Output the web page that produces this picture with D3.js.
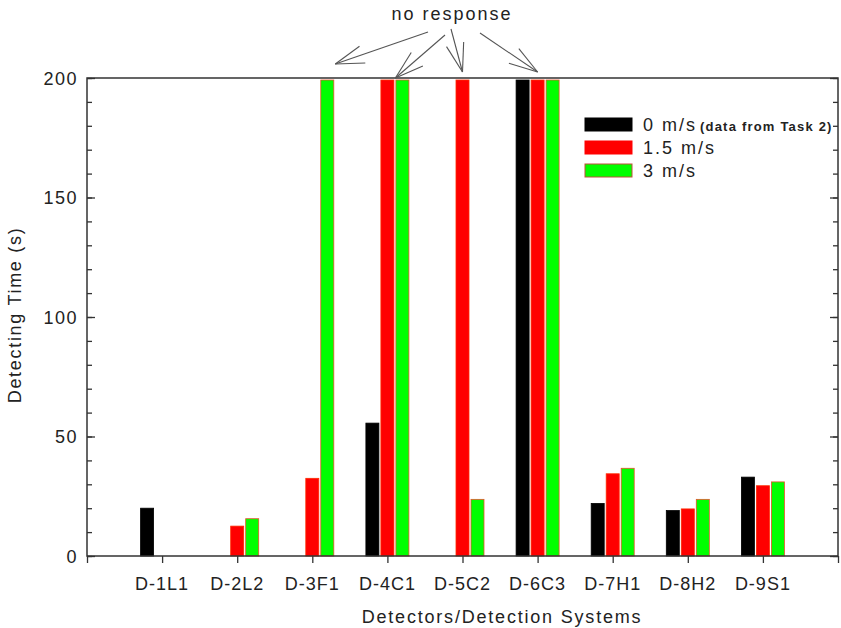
<!DOCTYPE html>
<html>
<head>
<meta charset="utf-8">
<script src="https://cdn.jsdelivr.net/npm/d3@7"></script>
<style>
  body { margin: 0; background: #fff; }
  text { font-family: "Liberation Sans", Arial, sans-serif; fill: #222; }
</style>
</head>
<body>
<div id="chart"></div>
<script>
// categories and series (null = no bar drawn)
const detectors = ["D-1L1", "D-2L2", "D-3F1", "D-4C1", "D-5C2", "D-6C3", "D-7H1", "D-8H2", "D-9S1"];
const speed0 = [20, null, null, 55.6, null, 200, 22, 19, 33];
const speed15 = [null, 12.5, 32.5, 200, 200, 200, 34.4, 19.7, 29.4];
const speed3 = [null, 15.6, 200, 200, 23.7, 200, 36.7, 23.7, 31];
const seriesNames = ["0 m/s", "1.5 m/s", "3 m/s"];
const yTicks = [0, 50, 100, 150, 200];
// "no response" arrows: [series index, detector index]
const noResponse = [[2, 2], [2, 3], [1, 4], [1, 5]];

const width = 841, height = 628;
const margin = {top: 78, right: 3, bottom: 72, left: 87};

const svg = d3.select("#chart").append("svg")
    .attr("width", width)
    .attr("height", height);

const x = d3.scaleLinear().domain([0, detectors.length + 1])
    .range([margin.left, width - margin.right]);
const y = d3.scaleLinear().domain([0, 200])
    .range([height - margin.bottom, margin.top]);

const colors = ["#000000", "#ff0000", "#00ff00"];
const strokes = ["#000000", "#ff2a00", "#e8502a"];
const barW = 13, offsets = [-15, 0, 15];

// bars
[speed0, speed15, speed3].forEach(function(vals, s) {
    const data = vals.map(function(v, i) { return {v: v, i: i}; })
        .filter(function(d) { return d.v !== null; });
    svg.append("g").selectAll("rect").data(data)
        .enter().append("rect")
        .attr("x", function(d) { return x(d.i + 1) + offsets[s] - barW / 2; })
        .attr("y", function(d) { return Math.max(y(d.v), y(200) + 2); })
        .attr("width", barW)
        .attr("height", function(d) { return y(0) - Math.max(y(d.v), y(200) + 2); })
        .attr("fill", colors[s])
        .attr("stroke", strokes[s])
        .attr("stroke-width", 0.8);
});

const axisColor = "#333";

function styleTicks(g) {
    g.select(".domain").remove();
    g.selectAll("line").attr("stroke", axisColor).attr("stroke-width", 1.3);
}

// left and right axes, ticks inward
const yMinor = d3.range(0, 201, 10);
[[margin.left, d3.axisRight], [width - margin.right, d3.axisLeft]].forEach(function(a) {
    svg.append("g")
        .attr("transform", "translate(" + a[0] + ",0)")
        .call(a[1](y).tickValues(yMinor).tickSize(5).tickFormat(""))
        .call(styleTicks);
    svg.append("g")
        .attr("transform", "translate(" + a[0] + ",0)")
        .call(a[1](y).tickValues(yTicks).tickSize(8).tickFormat(""))
        .call(styleTicks);
});
svg.append("g").selectAll("text").data(yTicks)
    .enter().append("text")
    .attr("x", margin.left - 9)
    .attr("y", function(d) { return y(d) + 6.5; })
    .attr("text-anchor", "end")
    .attr("font-size", 18)
    .attr("letter-spacing", 1.5)
    .text(function(d) { return d; });

// bottom axis, ticks outward
const xTicks = d3.range(0, detectors.length + 2);
svg.append("g")
    .attr("transform", "translate(0," + y(0) + ")")
    .call(d3.axisBottom(x).tickValues(xTicks).tickSize(7).tickFormat(""))
    .call(styleTicks);
svg.append("g").selectAll("text").data(detectors)
    .enter().append("text")
    .attr("x", function(d, i) { return x(i + 1); })
    .attr("y", y(0) + 34)
    .attr("text-anchor", "middle")
    .attr("font-size", 18)
    .attr("letter-spacing", 1)
    .text(function(d) { return d; });

// frame
svg.append("rect")
    .attr("x", x(0)).attr("y", y(200))
    .attr("width", x(detectors.length + 1) - x(0))
    .attr("height", y(0) - y(200))
    .attr("fill", "none")
    .attr("stroke", axisColor)
    .attr("stroke-width", 1.5);

// axis titles
svg.append("text")
    .attr("x", 502)
    .attr("y", 623)
    .attr("text-anchor", "middle")
    .attr("font-size", 18)
    .attr("letter-spacing", 1.8)
    .text("Detectors/Detection Systems");
svg.append("text")
    .attr("transform", "translate(21," + ((y(0) + y(200)) / 2 - 2) + ") rotate(-90)")
    .attr("text-anchor", "middle")
    .attr("font-size", 18)
    .attr("letter-spacing", 1.7)
    .text("Detecting Time (s)");

// legend
const legend = svg.append("g").attr("transform", "translate(585,118)");
seriesNames.forEach(function(name, s) {
    const row = legend.append("g").attr("transform", "translate(0," + (s * 23) + ")");
    row.append("rect")
        .attr("width", 47).attr("height", 13)
        .attr("fill", colors[s])
        .attr("stroke", s === 2 ? "#c0503a" : colors[s])
        .attr("stroke-width", 1);
    const t = row.append("text")
        .attr("x", 58).attr("y", 13)
        .attr("font-size", 18)
        .attr("letter-spacing", 2)
        .text(name);
    if (s === 0) {
        t.append("tspan")
            .attr("font-size", 13)
            .attr("font-weight", "bold")
            .attr("letter-spacing", 1.2)
            .attr("dx", 3)
            .text("(data from Task 2)");
    }
});

// "no response" annotation
svg.append("text")
    .attr("x", 452)
    .attr("y", 20)
    .attr("text-anchor", "middle")
    .attr("font-size", 18)
    .attr("letter-spacing", 2)
    .text("no response");

const starts = [[428, 32], [445, 35], [451, 29], [480, 33]];
const tipLift = [14, 0, 6, 6];
const arrows = svg.append("g")
    .attr("stroke", "#555")
    .attr("stroke-width", 1.1)
    .attr("fill", "none");
noResponse.forEach(function(d, k) {
    const tx = x(d[1] + 1) + offsets[d[0]] + (k === 1 ? -7 : (k === 0 ? 8 : 0));
    const ty = y(200) - tipLift[k];
    const sx = starts[k][0], sy = starts[k][1];
    arrows.append("line")
        .attr("x1", sx).attr("y1", sy)
        .attr("x2", tx).attr("y2", ty);
    const ang = Math.atan2(sy - ty, sx - tx);
    [-0.3, 0.3].forEach(function(a) {
        arrows.append("line")
            .attr("x1", tx).attr("y1", ty)
            .attr("x2", tx + 30 * Math.cos(ang + a))
            .attr("y2", ty + 30 * Math.sin(ang + a));
    });
});
</script>
</body>
</html>
